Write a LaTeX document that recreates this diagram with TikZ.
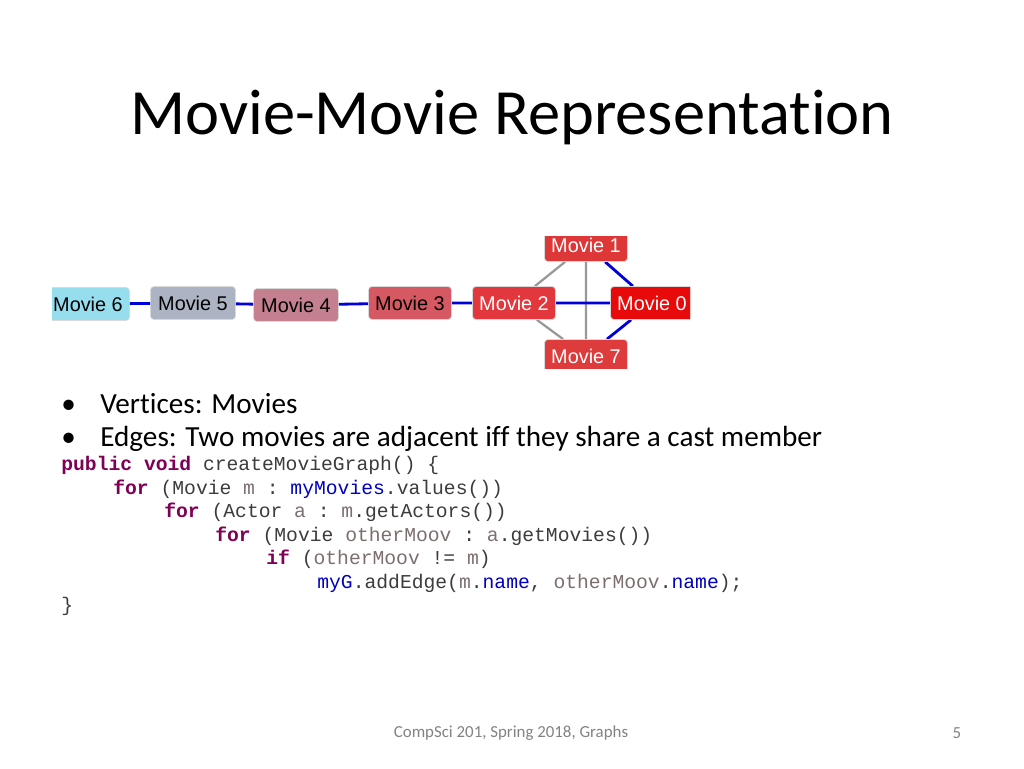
\documentclass[tikz,border=0pt]{standalone}
\usepackage{fontspec}
\setmainfont{Carlito}[Ligatures=NoCommon]
\newfontfamily\graphfont{Liberation Sans}
\setmonofont{Liberation Mono}
\usetikzlibrary{positioning}

\definecolor{kwcol}{RGB}{127,0,85}
\definecolor{fldcol}{RGB}{0,0,192}
\definecolor{varcol}{RGB}{125,110,110}
\definecolor{codecol}{RGB}{60,60,60}
\definecolor{footcol}{RGB}{130,130,130}
\newcommand{\kw}[1]{\textcolor{kwcol}{\textbf{#1}}}
\newcommand{\fld}[1]{\textcolor{fldcol}{#1}}
\newcommand{\vr}[1]{\textcolor{varcol}{#1}}

\begin{document}
\begin{tikzpicture}
	[x=0.02cm,y=-0.02cm,
	movie/.style={rounded corners=2pt,draw=black!15,minimum width=1.66cm,minimum height=0.66cm,font=\graphfont\fontsize{11.3}{11.3}\selectfont,inner sep=1pt},
	blue link/.style={draw=blue!85!black,line width=1.6pt},
	gray link/.style={draw=black!40,line width=1.3pt},
	codeline/.style={anchor=base west,inner sep=0pt,font=\ttfamily\fontsize{11.2}{11.2}\selectfont,text=codecol},
	bullet/.style={anchor=base west,inner sep=0pt,font=\fontsize{16.6}{16.6}\selectfont}]
	\useasboundingbox (0,0) rectangle (1024,768);

	% Title
	\node (title) at (512,118) {\fontsize{36.7}{37}\selectfont Movie-Movie Representation};

	% Graph picture, clipped like a screenshot
	\begin{scope}
		\clip (52,236) rectangle (690,368);
		\node[movie,fill={rgb,255:red,150;green,222;blue,238}] (m6) at (88,304) {Movie 6};
		\node[movie,fill={rgb,255:red,172;green,180;blue,195},minimum width=1.7cm] (m5) at (193,303) {Movie 5};
		\node[movie,fill={rgb,255:red,196;green,128;blue,142},minimum width=1.7cm] (m4) at (296,305) {Movie 4};
		\node[movie,fill={rgb,255:red,214;green,88;blue,98}] (m3) at (410,303) {Movie 3};
		\node[movie,fill={rgb,255:red,226;green,55;blue,60},text=white] (m2) at (514,303) {Movie 2};
		\node[movie,fill={rgb,255:red,232;green,10;blue,10},text=white] (m0) at (652,303) {Movie 0};
		\node[movie,fill={rgb,255:red,222;green,55;blue,55},text=white] (m1) at (586,245) {Movie 1};
		\node[movie,fill={rgb,255:red,222;green,60;blue,60},text=white] (m7) at (586,356) {Movie 7};

		% Links between the movies
		\draw[gray link] (m2) -- (m1)
			(m2) -- (m7)
			(m1) -- (m7);
		\draw[blue link] (m6) -- (m5)
			(m5) -- (m4)
			(m4) -- (m3)
			(m3) -- (m2)
			(m2) -- (m0)
			(m1) -- (m0)
			(m7) -- (m0);
		% redraw the nodes on top of the links
		\node[movie,fill={rgb,255:red,226;green,55;blue,60},text=white] at (m2) {Movie 2};
		\node[movie,fill={rgb,255:red,232;green,10;blue,10},text=white] at (m0) {Movie 0};
		\node[movie,fill={rgb,255:red,222;green,55;blue,55},text=white] at (m1) {Movie 1};
		\node[movie,fill={rgb,255:red,222;green,60;blue,60},text=white] at (m7) {Movie 7};
	\end{scope}

	% Bullets
	\node[bullet] (b1dot) at (61,413) {\textbullet};
	\node[bullet] (b1) at (100,413) {Vertices: Movies};
	\node[bullet] (b2dot) at (61,446) {\textbullet};
	\node[bullet] (b2) at (100,446) {Edges: Two movies are adjacent iff they share a cast member};

	% Code
	\node[codeline] (c1) at (61,470) {\kw{public} \kw{void} createMovieGraph() \{};
	\node[codeline] (c2) at (113,494) {\kw{for} (Movie \vr{m} : \fld{myMovies}.values())};
	\node[codeline] (c3) at (164,517) {\kw{for} (Actor \vr{a} : \vr{m}.getActors())};
	\node[codeline] (c4) at (215,541) {\kw{for} (Movie \vr{otherMoov} : \vr{a}.getMovies())};
	\node[codeline] (c5) at (266,564) {\kw{if} (\vr{otherMoov} != \vr{m})};
	\node[codeline] (c6) at (317,588) {\fld{myG}.addEdge(\vr{m}.\fld{name}, \vr{otherMoov}.\fld{name});};
	\node[codeline] (c7) at (61,611) {\}};

	% Footer
	\node[text=footcol,font=\fontsize{9.6}{10}\selectfont] (foot) at (511,733) {CompSci 201, Spring 2018, Graphs};
	\node[text=footcol,font=\fontsize{9.6}{10}\selectfont] (page) at (957,733) {5};
\end{tikzpicture}
\end{document}
